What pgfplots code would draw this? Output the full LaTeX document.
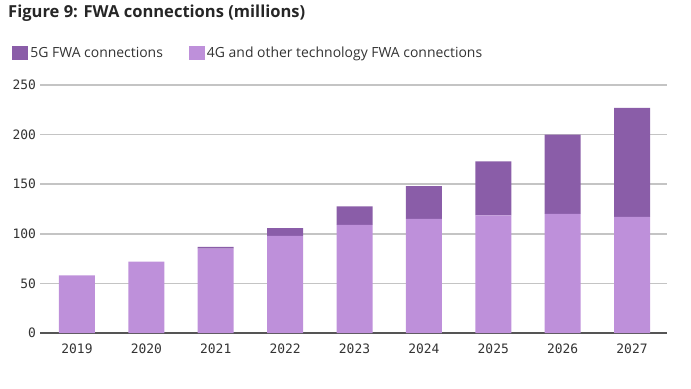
\documentclass[border=0pt]{standalone}
\usepackage{pgfplots}
\pgfplotsset{compat=1.18}
\usepackage{fontspec}
\setmainfont{Open Sans}
\newfontfamily\monofont{DejaVu Sans Mono}
\definecolor{fiveg}{HTML}{8A5DA8}
\definecolor{fourg}{HTML}{BE90DA}
\definecolor{gridc}{HTML}{C4C4C4}
\definecolor{basec}{HTML}{555555}
\begin{document}
\begin{tikzpicture}[x=1bp,y=1bp]
\path[use as bounding box] (0,0) rectangle (691,388);
\node[anchor=base west,inner sep=0,font=\fontsize{16.6}{19}\selectfont\bfseries,text=black!85] at (8,371) {Figure 9: FWA connections (millions)};
\begin{axis}[
  at={(40bp,55bp)}, anchor=south west,
  scale only axis, width=627bp, height=248bp,
  ybar stacked, bar width=36bp,
  xmin=-0.533, xmax=8.504, ymin=0, ymax=250,
  xtick={0,...,8},
  xticklabels={2019,2020,2021,2022,2023,2024,2025,2026,2027},
  ytick={0,50,...,250},
  ymajorgrids, grid style={gridc, line width=1.5bp},
  axis line style={draw=none},
  tick style={draw=none},
  clip=false,
  ticklabel style={font=\monofont\fontsize{13}{15}\selectfont, text=black!80},
  yticklabel style={xshift=-0.5bp},
  xticklabel style={yshift=-7bp},
  /pgf/number format/assume math mode=true,
  legend style={at={(-0.049,1.129)}, anchor=west, draw=none, fill=none,
    font=\fontsize{14}{16}\selectfont, text=black!80,
    /tikz/every even column/.append style={column sep=24bp}},
  legend columns=2, reverse legend,
  legend image code/.code={\fill[#1] (0bp,-7bp) rectangle (16bp,7bp);},
]
\addplot+[fill=fourg, draw=none] coordinates {(0,58) (1,72) (2,85) (3,98) (4,109) (5,115) (6,118.5) (7,120) (8,117)};
\addplot+[fill=fiveg, draw=none] coordinates {(0,0) (1,0) (2,1.7) (3,7.8) (4,18.6) (5,33) (6,54.5) (7,80) (8,110)};
\legend{4G and other technology FWA connections, 5G FWA connections}
\draw[basec, line width=2bp] (axis cs:-0.533,0) -- (axis cs:8.504,0);
\end{axis}
\end{tikzpicture}
\end{document}
